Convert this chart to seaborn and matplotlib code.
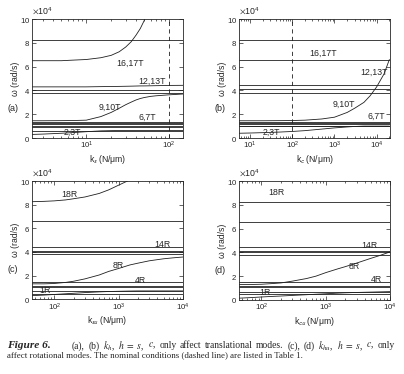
import numpy as np
import pandas as pd
import seaborn as sns
import matplotlib.pyplot as plt
import matplotlib.ticker as mticker

sns.set_style("ticks")
plt.rcParams["font.family"] = ["Liberation Sans", "DejaVu Sans"]
plt.rcParams["mathtext.fontset"] = "stixsans"

# valores de omega en unidades de 1e4 rad/s

# (a) barrido de k_s
ka = [2.2, 3, 5, 7, 10, 15, 20, 25, 30, 35, 40, 45, 50, 60, 70, 100, 148]
a_1617 = [6.5, 6.5, 6.5, 6.55, 6.6, 6.75, 6.95, 7.25, 7.65, 8.1, 8.65, 9.2, 9.85, 11.2, 12.5, 16.0, 20.0]
a_1213 = [4.3, 4.3, 4.3, 4.3, 4.3, 4.32, 4.33, 4.34, 4.35, 4.36, 4.37, 4.38, 4.38, 4.39, 4.4, 4.42, 4.43]
a_910 = [1.45, 1.45, 1.46, 1.47, 1.5, 1.8, 2.15, 2.5, 2.8, 3.02, 3.2, 3.32, 3.4, 3.5, 3.55, 3.63, 3.7]
a_23 = [0.3, 0.33, 0.4, 0.46, 0.53, 0.6, 0.62, 0.63, 0.63, 0.63, 0.63, 0.63, 0.63, 0.63, 0.63, 0.63, 0.63]
a_planos = [8.2, 4.05, 3.78, 1.35, 1.25, 1.15, 1.05, 0.95, 0.63]

# (b) barrido de k_c
kb = [5.5, 10, 20, 50, 100, 200, 500, 1000, 2000, 3000, 5000, 7000, 10000, 15000, 20000]
b_rise = [1.45, 1.45, 1.45, 1.46, 1.47, 1.5, 1.6, 1.75, 2.15, 2.5, 3.0, 3.55, 4.3, 5.4, 6.6]
b_23 = [0.4, 0.42, 0.45, 0.5, 0.55, 0.62, 0.75, 0.85, 0.93, 0.97, 1.0, 1.0, 1.0, 1.0, 1.0]
b_planos = [8.2, 6.55, 4.45, 4.1, 3.8, 1.35, 1.25, 1.15, 1.05, 0.98]

# (c) barrido de k_su
kc = [45, 70, 100, 150, 200, 300, 500, 700, 1000, 1500, 2000, 3000, 5000, 7000, 10000]
c_18R = [8.25, 8.28, 8.32, 8.4, 8.5, 8.65, 8.95, 9.25, 9.65, 10.1, 10.6, 11.5, 13.0, 14.0, 15.0]
c_8R = [1.3, 1.3, 1.33, 1.42, 1.52, 1.72, 2.05, 2.35, 2.6, 2.9, 3.05, 3.25, 3.42, 3.5, 3.57]
c_1R = [0.3, 0.35, 0.4, 0.46, 0.5, 0.56, 0.62, 0.65, 0.67, 0.69, 0.7, 0.7, 0.7, 0.7, 0.7]
c_planos = [6.6, 4.45, 4.1, 4.02, 3.82, 1.47, 1.14, 1.05, 0.7, 0.48]

# (d) barrido de k_cu
kd = [45, 70, 100, 150, 200, 300, 500, 700, 1000, 1500, 2000, 3000, 5000, 7000, 10000]
d_8R = [1.3, 1.3, 1.32, 1.38, 1.43, 1.58, 1.8, 2.0, 2.3, 2.6, 2.8, 3.1, 3.5, 3.75, 4.05]
d_1R = [0.15, 0.2, 0.25, 0.3, 0.33, 0.38, 0.44, 0.48, 0.52, 0.57, 0.6, 0.63, 0.66, 0.68, 0.7]
d_planos = [8.2, 6.55, 4.45, 4.1, 4.02, 3.8, 1.47, 1.14, 1.05, 0.7, 0.48]

LINEA = "0.12"


def panel(ax, k, curvas, planos, xlim, etiqueta, xlabel, textos, nominal=None):
    df = pd.concat([pd.DataFrame({"k": k, "w": np.array(v) * 1e4, "modo": nombre})
                    for nombre, v in curvas.items()])
    sns.lineplot(data=df, x="k", y="w", units="modo", estimator=None,
                 color=LINEA, lw=0.6, ax=ax, legend=False)
    for w in planos:
        ax.axhline(w * 1e4, color=LINEA, lw=0.6)
    if nominal is not None:
        ax.axvline(nominal, color=LINEA, lw=0.6, ls=(0, (5, 4)))
    ax.set_xscale("log")
    ax.set_xlim(xlim)
    ax.set_ylim(0, 1e5)
    ax.set_yticks(np.arange(0, 1.01e5, 2e4))
    fmt = mticker.ScalarFormatter(useMathText=True)
    fmt.set_powerlimits((4, 4))
    ax.yaxis.set_major_formatter(fmt)
    ax.yaxis.get_offset_text().set_fontsize(6.3)
    ax.tick_params(which="both", direction="in", top=True, right=True,
                   labelsize=5.6, width=0.5, pad=1.5)
    ax.tick_params(which="major", length=3)
    ax.tick_params(which="minor", length=1.5)
    for s in ax.spines.values():
        s.set_linewidth(0.6)
    ax.set_xlabel(xlabel, fontsize=6.2, labelpad=1)
    ax.set_ylabel("ω (rad/s)", fontsize=6.2, labelpad=0)
    ax.text(-0.125, 2.5e4, etiqueta, transform=ax.get_yaxis_transform(),
            fontsize=6.5, ha="center", va="center")
    for x, y, t in textos:
        ax.text(x, y * 1e4, t, fontsize=6.3, ha="center", va="center")


fig = plt.figure(figsize=(4.04, 3.74), dpi=100)
ax_a = fig.add_axes([0.079, 0.631, 0.374, 0.318])
ax_b = fig.add_axes([0.592, 0.631, 0.374, 0.318])
ax_c = fig.add_axes([0.079, 0.200, 0.374, 0.316])
ax_d = fig.add_axes([0.592, 0.198, 0.374, 0.318])

panel(ax_a, ka, {"16,17T": a_1617, "12,13T": a_1213, "9,10T": a_910, "2,3T": a_23},
      a_planos, (2.2, 148), "(a)", r"k$_s$ (N/μm)",
      [(34, 6.3, "16,17T"), (62, 4.75, "12,13T"), (19.5, 2.6, "9,10T"),
       (54, 1.75, "6,7T"), (6.8, 0.5, "2,3T")], nominal=100)
panel(ax_b, kb, {"rise": b_rise, "2,3T": b_23},
      b_planos, (5.5, 2.1e4), "(b)", r"k$_c$ (N/μm)",
      [(550, 7.15, "16,17T"), (8500, 5.55, "12,13T"), (1700, 2.85, "9,10T"),
       (1e4, 1.8, "6,7T"), (32, 0.5, "2,3T")], nominal=100)
panel(ax_c, kc, {"18R": c_18R, "8R": c_8R, "1R": c_1R},
      c_planos, (45, 1e4), "(c)", r"k$_{su}$ (N/μm)",
      [(170, 8.85, "18R"), (4800, 4.6, "14R"), (1000, 2.85, "8R"),
       (2150, 1.6, "4R"), (72, 0.7, "1R")])
panel(ax_d, kd, {"8R": d_8R, "1R": d_1R},
      d_planos, (45, 1e4), "(d)", r"k$_{cu}$ (N/μm)",
      [(170, 9.05, "18R"), (4700, 4.6, "14R"), (2800, 2.8, "8R"),
       (6200, 1.7, "4R"), (115, 0.6, "1R")])

# pie de figura
serif = ["Liberation Serif", "DejaVu Serif"]
W = fig.get_figwidth() * fig.dpi
fig.text(7 / W, 0.075, "Figure 6.", family=serif, fontweight="bold",
         fontstyle="italic", fontsize=8.2, va="center")

# primera línea justificada entre x=72 y x=395 px
palabras = ["(a),", "(b)", r"$k_h$,", r"$h\ =\ s$,", r"$c$,", "only", "affect",
            "translational", "modes.", "(c),", "(d)", r"$k_{hu}$,", r"$h\ =\ s$,",
            r"$c$,", "only"]
objs = [fig.text(0, 0.075, p, family=serif, fontsize=6.9, va="center",
                 math_fontfamily="stix") for p in palabras]
fig.canvas.draw()
r = fig.canvas.get_renderer()
anchos = [o.get_window_extent(r).width for o in objs]
hueco = (395 - 72 - sum(anchos)) / (len(objs) - 1)
x = 72
for o, a in zip(objs, anchos):
    o.set_x(x / W)
    x += a + hueco

fig.text(7 / W, 0.049,
         "affect rotational modes. The nominal conditions (dashed line) are listed in Table 1.",
         family=serif, fontsize=6.4, va="center")

plt.savefig("out.png", dpi=100)
